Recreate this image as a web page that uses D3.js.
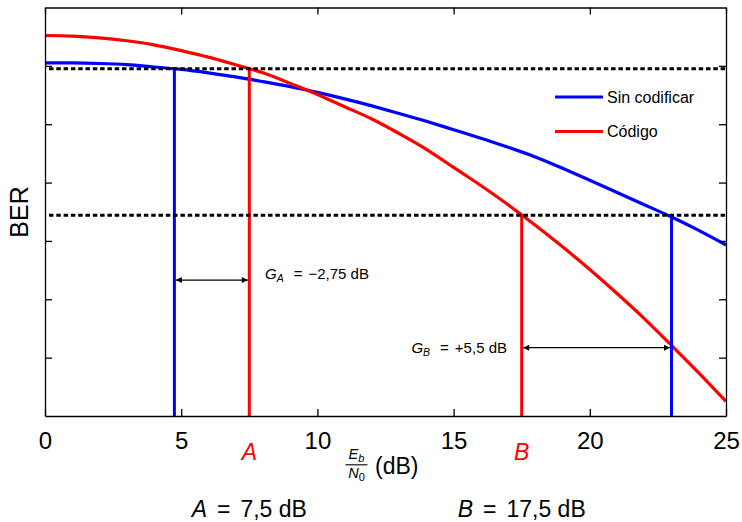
<!DOCTYPE html>
<html lang="es">
<head>
<meta charset="UTF-8">
<title>BER</title>
<script src="https://d3js.org/d3.v7.min.js"></script>
<style>
  body { margin: 0; background: #fff; }
  text { font-family: "Liberation Sans", Arial, Helvetica, sans-serif; }
</style>
</head>
<body>
<script>
// Eb/N0 en dB
var snr = [0,1,2,3,4,5,6,7,8,9,10,11,12,13,14,15,16,17,18,19,20,21,22,23,24,25];
// BER en décadas (eje sin etiquetas)
var berSinCodificar = [6.05,6.05,6.04,6.02,5.98,5.94,5.88,5.81,5.73,5.645,5.545,5.435,5.315,5.185,5.05,4.905,4.76,4.605,4.44,4.245,4.04,3.83,3.62,3.41,3.18,2.93];
var berCodigo = [6.52,6.51,6.48,6.43,6.36,6.26,6.15,6.02,5.88,5.70,5.51,5.30,5.09,4.84,4.57,4.26,3.95,3.62,3.27,2.90,2.51,2.10,1.67,1.21,0.74,0.25];
var xTicks = [0,5,10,15,20,25];
var yTicks = [1,2,3,4,5,6];
// puntos de trabajo A y B
var puntos = ['A','B'];
var berObjetivo = [5.95, 3.44];
var snrSinCod = [4.75, 23];
var snrCod = [7.5, 17.5];
var ganancias = ['\u22122,75', '+5,5'];
var berFlecha = [2.33, 1.17];
var series = ['Sin codificar','Código'];
var colores = ['#0000ff','#ff0000'];

var width = 742, height = 522;
var margin = {top:7.5, right:16, bottom:106, left:45};
var svg = d3.select('body').append('svg').attr('width',width).attr('height',height)
svg.append('rect').attr('width',width).attr('height',height).attr('fill','#fff')

var x = d3.scaleLinear().domain([0,25]).range([margin.left, width-margin.right]);
var y = d3.scaleLinear().domain([0,7]).range([height-margin.bottom, margin.top]);

// defs: punta de flecha
var defs = svg.append('defs');
defs.append('marker').attr('id','arr').attr('viewBox','0 0 10 10')
  .attr('refX',10).attr('refY',5).attr('markerWidth',9).attr('markerHeight',6)
  .attr('markerUnits','userSpaceOnUse').attr('orient','auto-start-reverse')
  .append('path').attr('d','M0,0L10,5L0,10z').attr('fill','#000');

// curvas
var line = d3.line().x(function(d){return x(d[0])}).y(function(d){return y(d[1])}).curve(d3.curveNatural);
[berSinCodificar, berCodigo].forEach(function(s,i){
  svg.append('path').datum(snr.map(function(v,j){return [v,s[j]]}))
    .attr('d',line).attr('fill','none').attr('stroke',colores[i]).attr('stroke-width',3.2);
});

// líneas verticales
puntos.forEach(function(p,i){
  svg.append('line').attr('x1',x(snrSinCod[i])).attr('x2',x(snrSinCod[i]))
    .attr('y1',y(berObjetivo[i])).attr('y2',y(0)).attr('stroke',colores[0]).attr('stroke-width',3);
  svg.append('line').attr('x1',x(snrCod[i])).attr('x2',x(snrCod[i]))
    .attr('y1',y(berObjetivo[i])).attr('y2',y(0)).attr('stroke',colores[1]).attr('stroke-width',3);
});

// líneas punteadas
svg.selectAll('.ref').data(berObjetivo).enter().append('line')
  .attr('x1',x(0)+4).attr('x2',x(25)).attr('y1',function(d){return y(d)}).attr('y2',function(d){return y(d)})
  .attr('stroke','#000').attr('stroke-width',3).attr('stroke-dasharray','4.5,2.8');

// ejes
var xb = svg.append('g').attr('transform','translate(0,'+y(0)+')')
  .call(d3.axisBottom(x).tickValues(xTicks).tickSizeInner(-7).tickSizeOuter(0).tickPadding(16));
var xt = svg.append('g').attr('transform','translate(0,'+y(7)+')')
  .call(d3.axisTop(x).tickValues(xTicks).tickSizeInner(-7).tickSizeOuter(0).tickFormat(''));
var yl = svg.append('g').attr('transform','translate('+x(0)+',0)')
  .call(d3.axisLeft(y).tickValues(yTicks).tickSizeInner(-7).tickSizeOuter(0).tickFormat(''));
var yr = svg.append('g').attr('transform','translate('+x(25)+',0)')
  .call(d3.axisRight(y).tickValues(yTicks).tickSizeInner(-7).tickSizeOuter(0).tickFormat(''));
[xb,xt,yl,yr].forEach(function(g){
  g.selectAll('path,line').attr('stroke','#000').attr('stroke-width',1.3);
});
xb.selectAll('text').attr('font-size','24px').attr('fill','#000')
  .style('font-family','"Liberation Sans", Arial, sans-serif');

// flechas de ganancia
puntos.forEach(function(p,i){
  var x1 = Math.min(snrSinCod[i],snrCod[i]), x2 = Math.max(snrSinCod[i],snrCod[i]);
  svg.append('line').attr('x1',x(x1)+1.5).attr('x2',x(x2)-1.5)
    .attr('y1',y(berFlecha[i])).attr('y2',y(berFlecha[i]))
    .attr('stroke','#000').attr('stroke-width',1.3)
    .attr('marker-start','url(#arr)').attr('marker-end','url(#arr)');
});
function ganancia(sub, val, xx, yy, anchor){
  var t = svg.append('text').attr('x',xx).attr('y',yy).attr('font-size','15px').attr('text-anchor',anchor);
  t.append('tspan').attr('font-style','italic').text('G');
  t.append('tspan').attr('font-style','italic').attr('font-size','10.5px').attr('dy',3).text(sub);
  t.append('tspan').attr('dy',-3).attr('dx',10).text('=');
  t.append('tspan').attr('dx',6).text(val+' dB');
}
ganancia('A', ganancias[0], 265, y(berFlecha[0])-1, 'start');
ganancia('B', ganancias[1], 507, y(berFlecha[1])+5, 'end');

// leyenda
series.forEach(function(s,i){
  var ly = 97 + i*34.5;
  svg.append('line').attr('x1',555).attr('x2',603).attr('y1',ly).attr('y2',ly)
    .attr('stroke',colores[i]).attr('stroke-width',3.2);
  svg.append('text').attr('x',607).attr('y',ly+5.5).attr('font-size','16px').text(s);
});

// etiquetas A, B bajo el eje
puntos.forEach(function(p,i){
  svg.append('text').attr('x',x(snrCod[i])).attr('y',460).attr('text-anchor','middle')
    .attr('font-size','23px').attr('font-style','italic').attr('fill',colores[1]).text(p);
  var t = svg.append('text').attr('x',x(snrCod[i])).attr('y',517).attr('text-anchor','middle').attr('font-size','23px');
  t.append('tspan').attr('font-style','italic').text(p);
  t.append('tspan').attr('dx',10).text('=');
  t.append('tspan').attr('dx',10).text(String(snrCod[i]).replace('.',',')+' dB');
});

// etiqueta eje x: Eb/N0 (dB)
var fx = 356.5;
var eb = svg.append('text').attr('x',fx).attr('y',459).attr('text-anchor','middle').attr('font-size','14.5px').attr('font-style','italic');
eb.append('tspan').text('E');
eb.append('tspan').attr('font-size','11px').attr('dy',2.5).text('b');
svg.append('line').attr('x1',fx-11).attr('x2',fx+11).attr('y1',464.8).attr('y2',464.8).attr('stroke','#000').attr('stroke-width',1.1);
var n0 = svg.append('text').attr('x',fx).attr('y',478).attr('text-anchor','middle').attr('font-size','14.5px');
n0.append('tspan').attr('font-style','italic').text('N');
n0.append('tspan').attr('font-size','11px').attr('dy',2.5).text('0');
svg.append('text').attr('x',375).attr('y',474).attr('font-size','23px').text('(dB)');

// etiqueta eje y
svg.append('text').attr('transform','translate(28,212) rotate(-90)').attr('text-anchor','middle')
  .attr('font-size','25px').text('BER');
</script>
</body>
</html>
